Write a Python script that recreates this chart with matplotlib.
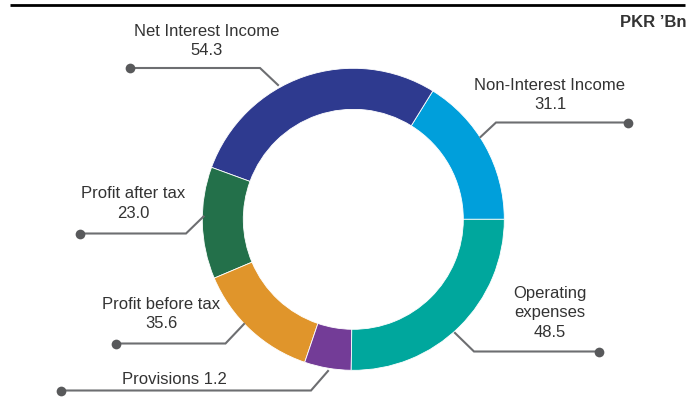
import matplotlib
matplotlib.use("Agg")
import matplotlib.pyplot as plt

# ---- data ----
categories = ["Non-Interest Income", "Net Interest Income", "Profit after tax",
              "Profit before tax", "Provisions", "Operating expenses"]
values = [31.1, 54.3, 23.0, 35.6, 1.2, 48.5]
# angular shares of the ring as drawn in the reference
slice_sizes = [31.1, 54.3, 23.0, 25.8, 9.6, 48.5]
colors = ["#009FDB", "#2E3A8F", "#23704A", "#E0952B", "#733C97", "#00A79D"]
unit_label = "PKR \u2019Bn"

plt.rcParams['font.family'] = ['Liberation Sans', 'DejaVu Sans']

W, H = 693, 408
fig = plt.figure(figsize=(W / 100, H / 100), dpi=100)
ax = fig.add_axes([0, 0, 1, 1])

cx, cy = 353.3, H - 219.3
R = 151
width = R - 110

ax.pie(slice_sizes, colors=colors, startangle=0, counterclock=True,
       radius=R, center=(cx, cy),
       wedgeprops=dict(width=width, edgecolor="white", linewidth=0.6))

ax.set_xlim(0, W)
ax.set_ylim(0, H)
ax.set_aspect("equal")
ax.axis("off")

def Y(y):
    return H - y

# top rule and unit
ax.plot([10, 685], [Y(5), Y(5)], color="black", lw=2, solid_capstyle="butt")
ax.text(686, Y(22.5), unit_label, ha="right", va="center", fontsize=12,
        fontweight="bold", color="#333333")

txt_kw = dict(ha="center", va="center", fontsize=12, color="#333333",
              linespacing=1.4)
line_c = "#6D6E71"
dot_c = "#58595B"

def leader(dot, elbow, end):
    ax.plot([dot[0], elbow[0], end[0]], [Y(dot[1]), Y(elbow[1]), Y(end[1])],
            color=line_c, lw=1.5, solid_joinstyle="miter")
    ax.plot(dot[0], Y(dot[1]), "o", color=dot_c, ms=7, mec="none")

def fmt(v):
    return f"{v:.1f}"

# Net Interest Income
ax.text(207, Y(41), f"{categories[1]}\n{fmt(values[1])}", **txt_kw)
leader((130, 68), (260, 68), (278, 85))
# Non-Interest Income
ax.text(550, Y(95), f"{categories[0]}\n{fmt(values[0])}", **txt_kw)
leader((628, 122.5), (496, 122.5), (480.5, 137))
# Operating expenses
ax.text(550, Y(313), f"Operating\nexpenses\n{fmt(values[5])}", **txt_kw)
leader((599, 351.5), (474, 351.5), (455, 333))
# Profit after tax
ax.text(133, Y(203.5), f"{categories[2]}\n{fmt(values[2])}", **txt_kw)
leader((79.5, 233.5), (186, 233.5), (203.5, 216.5))
# Profit before tax
ax.text(161, Y(314), f"{categories[3]}\n{fmt(values[3])}", **txt_kw)
leader((116, 343.5), (225.5, 343.5), (244, 324))
# Provisions
ax.text(174.5, Y(379.5), f"{categories[4]} {fmt(values[4])}", **txt_kw)
leader((61, 390.5), (311, 390.5), (328, 371))

fig.savefig("out.png", dpi=100)
